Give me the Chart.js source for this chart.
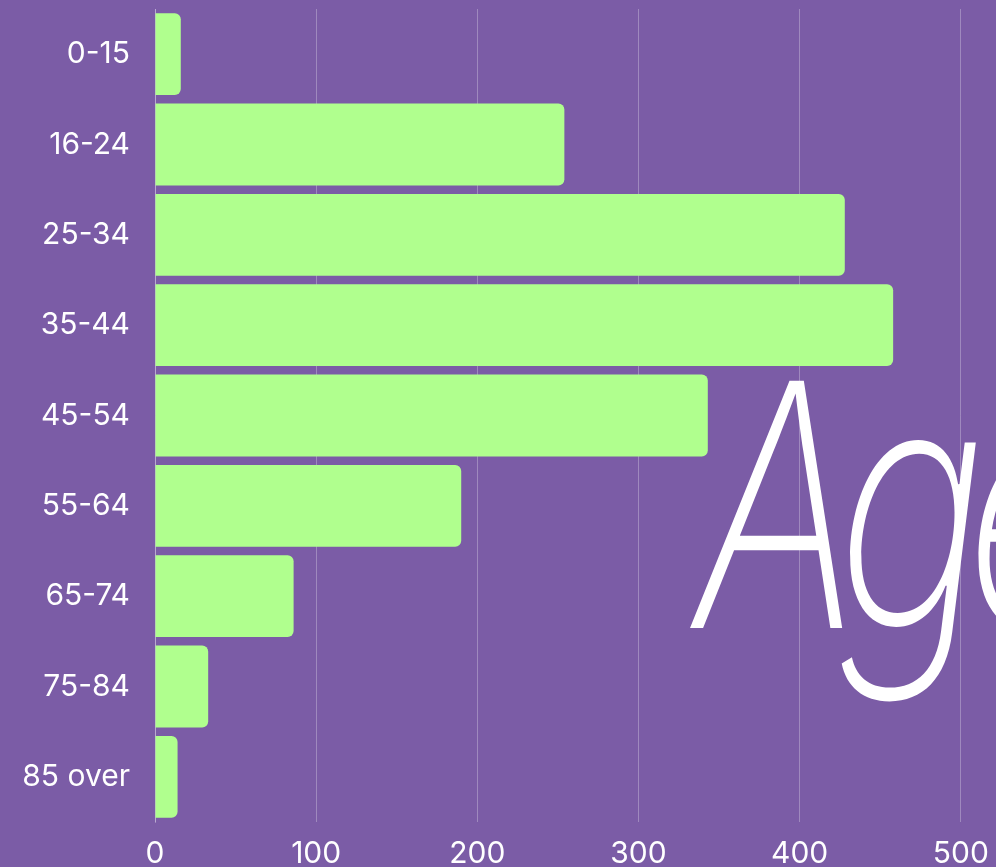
<!DOCTYPE html>
<html>
<head>
<meta charset="utf-8">
<script src="https://cdn.jsdelivr.net/npm/chart.js@4/dist/chart.umd.min.js"></script>
<style>
  html, body {
    margin: 0;
    padding: 0;
    background: #7b5ca6;
    overflow: hidden;
  }
  #wrap {
    position: absolute;
    left: 0;
    top: 0;
    width: 1140px;
    height: 880px;
  }
</style>
</head>
<body>
<div id="wrap"><canvas id="ageChart"></canvas></div>
<script>
// 年龄段分布
const ageGroups = ['0-15', '16-24', '25-34', '35-44', '45-54', '55-64', '65-74', '75-84', '85 over']
const counts = [16, 254, 428, 458, 343, 190, 86, 33, 14]
const xTicks = [0, 100, 200, 300, 400, 500, 600]

const BG = '#7b5ca6'
const BAR = '#b0ff8e'
const LABEL_FONT = { family: 'Inter, "Noto Sans", sans-serif', size: 30, weight: 400 }

// 右侧大标题，细笔画斜体
const titlePlugin = {
  id: 'ageTitle',
  afterDatasetsDraw(chart) {
    const ctx = chart.ctx
    ctx.save()
    ctx.fillStyle = '#ffffff'
    ctx.font = 'italic 200 340px Inter, sans-serif'
    ctx.textBaseline = 'alphabetic'
    ctx.textAlign = 'left'
    if ('letterSpacing' in ctx) ctx.letterSpacing = '-30px'
    ctx.translate(694, 628)
    ctx.scale(0.75, 1)
    ctx.fillText('Age', 0, 0)
    ctx.restore()
  }
}

const canvas = document.getElementById('ageChart')
const chart = new Chart(canvas.getContext('2d'), {
  type: 'bar',
  data: {
    labels: ageGroups,
    datasets: [{
      label: 'Age',
      data: counts,
      backgroundColor: BAR,
      borderWidth: 0,
      borderRadius: 6,
      borderSkipped: 'start',
      barPercentage: 0.906,
      categoryPercentage: 1
    }]
  },
  options: {
    indexAxis: 'y',
    responsive: true,
    maintainAspectRatio: false,
    animation: false,
    layout: { padding: { top: 9, right: 18, left: 0, bottom: 0 } },
    plugins: {
      legend: { display: false },
      tooltip: { enabled: false }
    },
    scales: {
      x: {
        min: 0,
        max: 600,
        afterBuildTicks(scale) {
          scale.ticks = xTicks.map(v => ({ value: v }))
        },
        afterFit(scale) {
          scale.height = 58
          scale.paddingLeft = 0
          scale.paddingRight = 0
        },
        grid: {
          color: 'rgba(255,255,255,0.28)',
          lineWidth: 1,
          drawTicks: false
        },
        border: { display: false },
        ticks: { color: '#ffffff', font: LABEL_FONT, padding: 14 }
      },
      y: {
        afterFit(scale) {
          scale.width = 155
          scale.paddingTop = 0
          scale.paddingBottom = 0
        },
        grid: { display: false, drawTicks: false },
        border: { display: true, color: 'rgba(255,255,255,0.28)' },
        ticks: { color: '#ffffff', font: LABEL_FONT, padding: 25 }
      }
    }
  },
  plugins: [titlePlugin]
})
</script>
</body>
</html>
